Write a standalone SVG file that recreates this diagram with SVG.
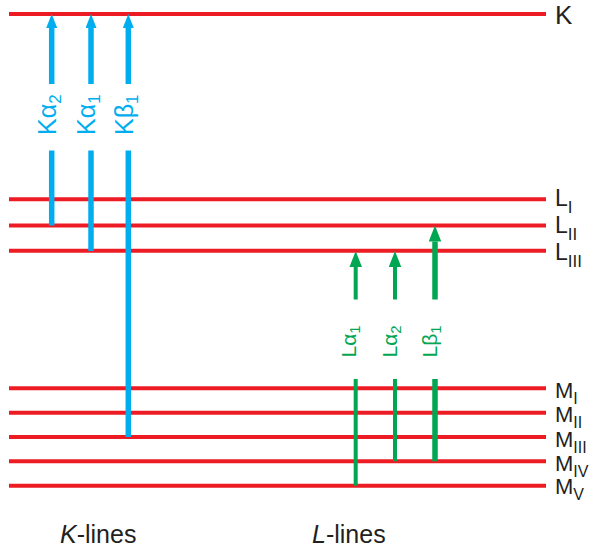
<svg xmlns="http://www.w3.org/2000/svg" width="589" height="547" viewBox="0 0 589 547">
<style>
.lvl{stroke:#ed1c24;stroke-width:4;fill:none}
.blue{stroke:#00aeef;stroke-width:5.5;fill:none}
.grn{stroke:#00a651;fill:none}
.tb{font-family:"Liberation Sans",Arial,sans-serif;fill:#00aeef;font-size:25px}
.tg{font-family:"Liberation Sans",Arial,sans-serif;fill:#00a651;font-size:21px}
.tl{font-family:"Liberation Sans",Arial,sans-serif;fill:#231f20}
.cap{font-family:"Liberation Sans",Arial,sans-serif;fill:#231f20;font-size:25px}
</style>
<defs>
<marker id="hb" markerUnits="userSpaceOnUse" markerWidth="15" markerHeight="12" refX="0" refY="5.5" orient="auto"><path d="M0,0 L14,5.5 L0,11 z" fill="#00aeef"/></marker>
<marker id="hg" markerUnits="userSpaceOnUse" markerWidth="17" markerHeight="13" refX="0" refY="6.25" orient="auto"><path d="M0,0 L16,6.25 L0,12.5 z" fill="#00a651"/></marker>
</defs>
<g id="levels">
<g id="K"><line class="lvl" x1="9" y1="14" x2="546" y2="14"/><text class="tl" x="555" y="23.5" font-size="26">K</text></g>
<g id="LI"><line class="lvl" x1="9" y1="199.3" x2="546" y2="199.3"/><text class="tl" x="555" y="206" font-size="23">L<tspan font-size="17" dy="7">I</tspan></text></g>
<g id="LII"><line class="lvl" x1="9" y1="225.5" x2="546" y2="225.5"/><text class="tl" x="555" y="233" font-size="23">L<tspan font-size="17" dy="7">II</tspan></text></g>
<g id="LIII"><line class="lvl" x1="9" y1="250.8" x2="546" y2="250.8"/><text class="tl" x="555" y="260" font-size="23">L<tspan font-size="17" dy="7">III</tspan></text></g>
<g id="MI"><line class="lvl" x1="9" y1="388.3" x2="546" y2="388.3"/><text class="tl" x="555" y="398.3" font-size="22">M<tspan font-size="16" dy="6">I</tspan></text></g>
<g id="MII"><line class="lvl" x1="9" y1="412.7" x2="546" y2="412.7"/><text class="tl" x="555" y="422.3" font-size="22">M<tspan font-size="16" dy="6">II</tspan></text></g>
<g id="MIII"><line class="lvl" x1="9" y1="437" x2="546" y2="437"/><text class="tl" x="555" y="446.7" font-size="22">M<tspan font-size="16" dy="6">III</tspan></text></g>
<g id="MIV"><line class="lvl" x1="9" y1="461.3" x2="546" y2="461.3"/><text class="tl" x="555" y="470.5" font-size="22">M<tspan font-size="16" dy="6">IV</tspan></text></g>
<g id="MV"><line class="lvl" x1="9" y1="485.7" x2="546" y2="485.7"/><text class="tl" x="555" y="493.5" font-size="22">M<tspan font-size="16" dy="6">V</tspan></text></g>
</g>
<g id="connectors">
<g id="Ka2"><line class="blue" x1="51.7" y1="84" x2="51.7" y2="28" marker-end="url(#hb)"/><line class="blue" x1="51.7" y1="150.5" x2="51.7" y2="225.5"/></g>
<g id="Ka1"><line class="blue" x1="91" y1="84" x2="91" y2="28" marker-end="url(#hb)"/><line class="blue" x1="91" y1="150.5" x2="91" y2="251"/></g>
<g id="Kb1"><line class="blue" x1="128.3" y1="84" x2="128.3" y2="28" marker-end="url(#hb)"/><line class="blue" x1="128.3" y1="150.5" x2="128.3" y2="437"/></g>
<g id="La1"><line class="grn" stroke-width="4" x1="355.7" y1="299.5" x2="355.7" y2="267" marker-end="url(#hg)"/><line class="grn" stroke-width="4" x1="355.7" y1="379" x2="355.7" y2="485.7"/></g>
<g id="La2"><line class="grn" stroke-width="4" x1="395" y1="299.5" x2="395" y2="267" marker-end="url(#hg)"/><line class="grn" stroke-width="4" x1="395" y1="379" x2="395" y2="461.3"/></g>
<g id="Lb1"><line class="grn" stroke-width="5.5" x1="435" y1="299.5" x2="435" y2="241.5" marker-end="url(#hg)"/><line class="grn" stroke-width="5.5" x1="435" y1="379" x2="435" y2="461.3"/></g>
</g>
<g id="labels">
<text class="tb" transform="translate(55.5,135) rotate(-90)">Kα<tspan font-size="17" dy="5">2</tspan></text>
<text class="tb" transform="translate(95,135) rotate(-90)">Kα<tspan font-size="17" dy="5">1</tspan></text>
<text class="tb" transform="translate(133,135) rotate(-90)">Kβ<tspan font-size="17" dy="5">1</tspan></text>
<text class="tg" transform="translate(356,357.5) rotate(-90)">Lα<tspan font-size="15" dy="4">1</tspan></text>
<text class="tg" transform="translate(396.5,357.5) rotate(-90)">Lα<tspan font-size="15" dy="4">2</tspan></text>
<text class="tg" transform="translate(436.5,357.5) rotate(-90)">Lβ<tspan font-size="15" dy="4">1</tspan></text>
<text class="cap" x="60" y="543"><tspan font-style="italic">K</tspan>-lines</text>
<text class="cap" x="312" y="543"><tspan font-style="italic">L</tspan>-lines</text>
</g>
</svg>
